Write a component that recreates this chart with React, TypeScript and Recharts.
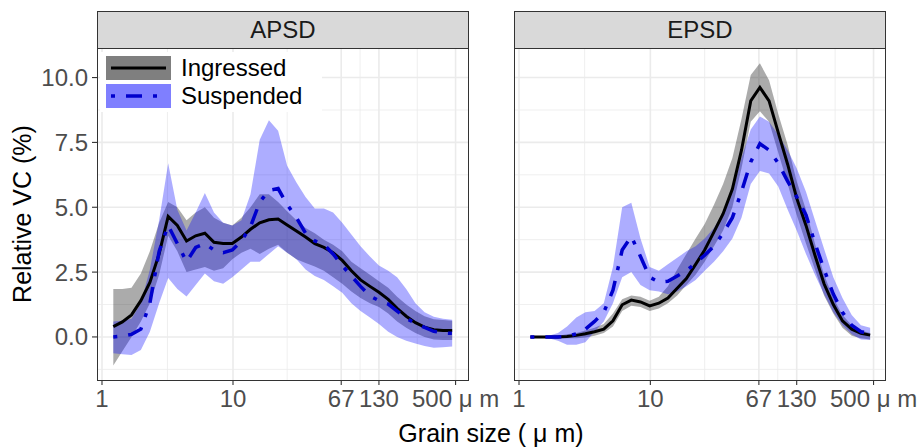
import React from 'react';
import { ComposedChart, Area, Line, XAxis, YAxis, CartesianGrid } from 'recharts';

// grain size bin centres (µm), log spaced
const grainSize = [1.22, 1.43, 1.68, 1.98, 2.32, 2.73, 3.2, 3.76, 4.42, 5.19, 6.1, 7.16, 8.41, 9.88, 11.6, 13.6, 16.0, 18.8, 22.1, 25.9, 30.5, 35.8, 42.1, 49.4, 58.1, 68.2, 80.1, 94.1, 111, 130, 153, 179, 210, 247, 290, 341, 401, 471];

// APSD panel
const apsdIng = [0.4, 0.58, 0.85, 1.4, 2.1, 3.2, 4.65, 4.3, 3.7, 3.9, 4.0, 3.65, 3.6, 3.6, 3.85, 4.15, 4.4, 4.52, 4.55, 4.32, 4.08, 3.85, 3.6, 3.45, 3.25, 2.95, 2.55, 2.2, 1.95, 1.72, 1.45, 1.1, 0.8, 0.55, 0.38, 0.28, 0.25, 0.25];
const apsdIngLo = [-1.1, -0.55, 0.0, 0.6, 1.3, 2.4, 3.9, 3.3, 2.5, 2.6, 2.7, 2.55, 2.65, 3.0, 3.25, 3.4, 3.2, 3.4, 3.55, 3.25, 3.0, 2.85, 2.72, 2.55, 2.3, 2.05, 1.75, 1.5, 1.3, 1.15, 0.9, 0.6, 0.35, 0.15, 0.0, -0.1, -0.12, -0.12];
const apsdIngHi = [1.85, 1.85, 1.9, 2.45, 3.3, 4.4, 5.2, 5.0, 4.5, 4.8, 5.0, 4.6, 4.4, 4.3, 4.6, 5.0, 5.5, 5.5, 5.2, 4.85, 4.5, 4.2, 4.0, 3.75, 3.55, 3.3, 2.9, 2.65, 2.4, 2.15, 1.9, 1.55, 1.25, 1.0, 0.8, 0.68, 0.65, 0.62];
const apsdSus = [0.0, 0.03, 0.1, 0.3, 1.3, 3.3, 4.3, 3.6, 2.9, 3.45, 3.6, 3.35, 3.25, 3.35, 3.7, 4.25, 5.2, 5.65, 5.72, 5.1, 4.6, 4.0, 3.7, 3.56, 3.2, 2.75, 2.35, 1.95, 1.58, 1.4, 1.27, 1.0, 0.72, 0.52, 0.37, 0.22, 0.15, 0.14];
const apsdSusLo = [-0.63, -0.67, -0.7, -0.5, 0.2, 1.3, 2.27, 1.85, 1.56, 2.0, 2.45, 2.15, 2.05, 2.3, 2.6, 2.9, 2.9, 3.2, 3.5, 3.25, 3.0, 2.6, 2.35, 2.2, 1.95, 1.7, 1.3, 1.0, 0.75, 0.5, 0.2, 0.0, -0.15, -0.25, -0.35, -0.42, -0.4, -0.37];
const apsdSusHi = [0.6, 0.62, 0.7, 1.3, 2.6, 4.5, 6.7, 4.9, 4.1, 4.8, 5.55, 4.8, 4.4, 4.3, 4.5, 5.5, 7.6, 8.35, 7.95, 6.6, 5.95, 5.4, 4.95, 4.95, 4.8, 4.4, 3.95, 3.5, 3.1, 2.75, 2.55, 2.3, 1.85, 1.3, 0.95, 0.78, 0.7, 0.66];

// EPSD panel
const epsdIng = [0.0, 0.0, 0.0, 0.0, 0.02, 0.06, 0.12, 0.2, 0.3, 0.62, 1.24, 1.42, 1.35, 1.2, 1.3, 1.5, 1.88, 2.25, 2.8, 3.35, 4.05, 4.75, 5.7, 7.2, 9.1, 9.62, 9.1, 7.88, 6.65, 5.35, 4.3, 3.15, 2.05, 1.25, 0.62, 0.3, 0.14, 0.07];
const epsdIngLo = [0.0, 0.0, -0.02, -0.03, -0.05, -0.05, -0.02, 0.05, 0.15, 0.4, 1.0, 1.2, 1.15, 1.0, 1.1, 1.3, 1.6, 2.0, 2.4, 2.9, 3.5, 4.1, 5.0, 6.5, 8.3, 8.7, 8.3, 7.1, 5.9, 4.7, 3.6, 2.6, 1.6, 0.9, 0.35, 0.05, -0.05, -0.1];
const epsdIngHi = [0.0, 0.0, 0.02, 0.05, 0.1, 0.15, 0.25, 0.35, 0.5, 0.9, 1.45, 1.6, 1.55, 1.4, 1.55, 1.95, 2.6, 3.2, 3.8, 4.35, 5.1, 5.9, 6.9, 8.4, 10.1, 10.55, 9.9, 8.6, 7.4, 6.0, 4.9, 3.6, 2.4, 1.5, 0.85, 0.45, 0.25, 0.15];
const epsdSus = [0.0, 0.0, 0.0, 0.0, 0.02, 0.12, 0.3, 0.6, 0.95, 1.8, 3.35, 3.88, 3.1, 2.3, 2.12, 2.15, 2.35, 2.55, 2.85, 3.15, 3.5, 4.0, 4.6, 5.6, 6.75, 7.45, 7.2, 6.7, 6.0, 5.4, 4.7, 3.62, 2.6, 1.65, 0.95, 0.45, 0.2, 0.14];
const epsdSusLo = [0.0, 0.0, -0.05, -0.15, -0.3, -0.3, -0.2, 0.2, 0.6, 1.3, 2.3, 2.5, 2.0, 1.8, 1.75, 1.65, 1.75, 1.95, 2.2, 2.55, 2.9, 3.3, 3.8, 4.6, 5.9, 6.4, 6.3, 5.8, 4.9, 4.1, 3.2, 2.4, 1.65, 0.95, 0.45, 0.1, -0.1, -0.12];
const epsdSusHi = [0.0, 0.0, 0.05, 0.15, 0.4, 0.75, 0.95, 1.0, 1.3, 2.7, 5.0, 5.17, 3.8, 2.7, 2.55, 2.8, 3.05, 3.3, 3.5, 3.8, 4.2, 4.8, 5.6, 6.9, 8.0, 8.5, 8.3, 7.8, 7.2, 6.5, 5.6, 4.5, 3.4, 2.3, 1.5, 0.85, 0.45, 0.35];

const xTicks = [1, 10, 67, 130, 500];
const xMinor = [3.16, 25.9, 93.3, 255];
const yTicks = [0, 2.5, 5, 7.5, 10];
const yMinor = [-1.25, 1.25, 3.75, 6.25, 8.75];

const FONT = '"Liberation Sans", Arial, Helvetica, sans-serif';
const ING_COLOR = '#000000';
const SUS_COLOR = '#0000CD';
const DOTDASH = '4 11 16 11';

const makeRows = (ing: number[], ingLo: number[], ingHi: number[], sus: number[], susLo: number[], susHi: number[]) =>
  grainSize.map((x, i) => ({
    x,
    ing: ing[i],
    ingBand: [ingLo[i], ingHi[i]],
    sus: sus[i],
    susBand: [susLo[i], susHi[i]],
  }));

const apsdRows = makeRows(apsdIng, apsdIngLo, apsdIngHi, apsdSus, apsdSusLo, apsdSusHi);
const epsdRows = makeRows(epsdIng, epsdIngLo, epsdIngHi, epsdSus, epsdSusLo, epsdSusHi);

const fmtX = (v: number) => (v === 500 ? '500 \u03bc m' : String(v));
const fmtY = (v: number) => v.toFixed(1);

const Panel = ({ rows, left, right, showY }: { rows: any[]; left: number; right: number; showY: boolean }) => (
  <div style={{ position: 'absolute', left: 0, top: 0 }}>
    <ComposedChart width={921} height={420} data={rows} margin={{ top: 48, right, bottom: 0, left }}>
      <CartesianGrid stroke="#EBEBEB" strokeWidth={0.8} horizontalValues={yMinor} verticalValues={xMinor} />
      <CartesianGrid stroke="#EBEBEB" strokeWidth={1.6} horizontalValues={yTicks} verticalValues={xTicks} />
      <XAxis
        dataKey="x"
        type="number"
        scale="log"
        domain={[0.916, 622]}
        allowDataOverflow
        ticks={xTicks}
        tickFormatter={fmtX}
        axisLine={false}
        tickLine={{ stroke: '#333333', strokeWidth: 1.1 }}
        tickSize={5}
        tickMargin={5}
        height={40}
        interval={0}
        tick={{ fontSize: 24, fill: '#4D4D4D', fontFamily: FONT }}
      />
      <YAxis
        hide={!showY}
        type="number"
        domain={[-1.66, 11.14]}
        allowDataOverflow
        ticks={yTicks}
        tickFormatter={fmtY}
        axisLine={false}
        tickLine={{ stroke: '#333333', strokeWidth: 1.1 }}
        tickSize={5}
        tickMargin={4}
        width={50}
        interval={0}
        tick={{ fontSize: 24, fill: '#4D4D4D', fontFamily: FONT }}
      />
      <Area type="linear" dataKey="ingBand" stroke="none" fill={ING_COLOR} fillOpacity={0.33} isAnimationActive={false} />
      <Area type="linear" dataKey="susBand" stroke="none" fill="#0000FF" fillOpacity={0.32} isAnimationActive={false} />
      <Line type="linear" dataKey="ing" stroke={ING_COLOR} strokeWidth={3} dot={false} isAnimationActive={false} />
      <Line type="linear" dataKey="sus" stroke={SUS_COLOR} strokeWidth={3.5} strokeDasharray={DOTDASH} dot={false} isAnimationActive={false} />
    </ComposedChart>
  </div>
);

const Strip = ({ left, label }: { left: number; label: string }) => (
  <div
    style={{
      position: 'absolute', left, top: 11, width: 372, height: 38, boxSizing: 'border-box',
      background: '#D9D9D9', border: '1px solid #333333', color: '#1A1A1A', fontSize: 24,
      fontFamily: FONT, display: 'flex', alignItems: 'center', justifyContent: 'center',
    }}
  >
    {label}
  </div>
);

const Border = ({ left }: { left: number }) => (
  <div style={{ position: 'absolute', left, top: 48, width: 372, height: 333, boxSizing: 'border-box', border: '1px solid #333333' }} />
);

export default function App() {
  return (
    <div style={{ position: 'absolute', left: 0, top: 0, width: 921, height: 448, background: '#FFFFFF', overflow: 'hidden' }}>
      <Panel rows={apsdRows} left={47} right={453} showY />
      <Panel rows={epsdRows} left={514} right={35} showY={false} />
      <Strip left={97} label="APSD" />
      <Strip left={514} label="EPSD" />
      <Border left={97} />
      <Border left={514} />
      {/* legend */}
      <div style={{ position: 'absolute', left: 100, top: 52, width: 222, height: 60, background: '#FFFFFF' }}>
        <svg width={70} height={56} style={{ position: 'absolute', left: 6, top: 4 }}>
          <rect x={0} y={0} width={65} height={24} fill="#7F7F7F" />
          <line x1={5} y1={12} x2={60} y2={12} stroke={ING_COLOR} strokeWidth={3} />
          <rect x={0} y={28} width={65} height={24} fill="#7F7FFF" />
          <line x1={5} y1={40} x2={60} y2={40} stroke={SUS_COLOR} strokeWidth={3.5} strokeDasharray={DOTDASH} />
        </svg>
        <div style={{ position: 'absolute', left: 81, top: 2, fontSize: 24, fontFamily: FONT, color: '#000', lineHeight: '28px' }}>Ingressed</div>
        <div style={{ position: 'absolute', left: 81, top: 30, fontSize: 24, fontFamily: FONT, color: '#000', lineHeight: '28px' }}>Suspended</div>
      </div>
      {/* axis titles */}
      <div
        style={{
          position: 'absolute', left: 22, top: 214, transform: 'translate(-50%, -50%) rotate(-90deg)',
          fontSize: 25, fontFamily: FONT, color: '#000', whiteSpace: 'nowrap',
        }}
      >
        Relative VC (%)
      </div>
      <div
        style={{
          position: 'absolute', left: 491, top: 433, transform: 'translate(-50%, -50%)',
          fontSize: 25, fontFamily: FONT, color: '#000', whiteSpace: 'nowrap',
        }}
      >
        Grain size ( μ m)
      </div>
    </div>
  );
}
